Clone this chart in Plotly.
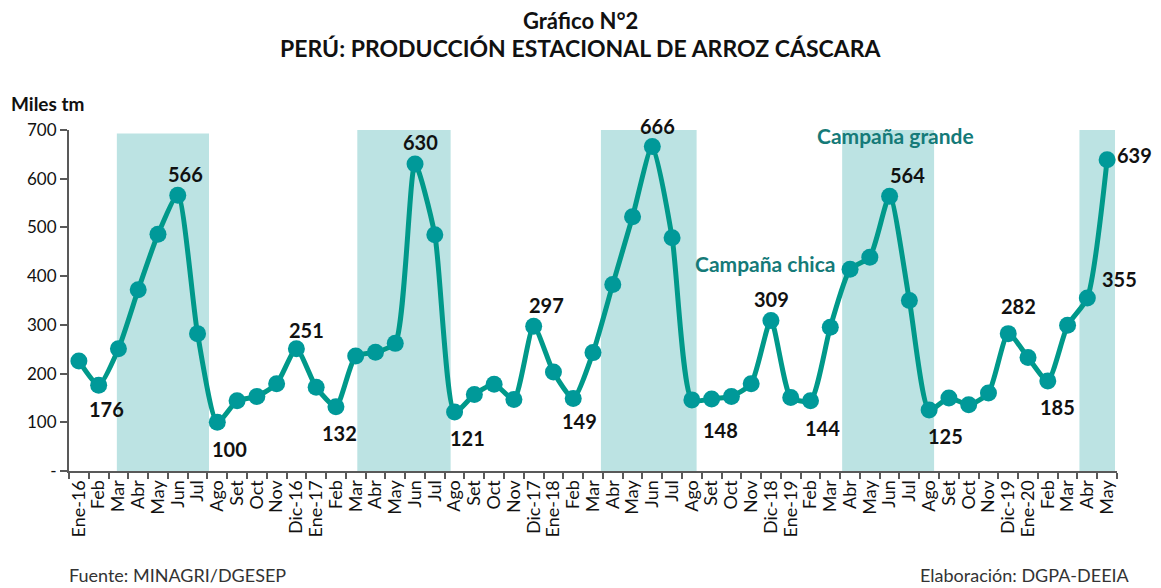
import plotly.graph_objects as go

# ---------------- data ----------------
month_labels = ["Ene-16", "Feb", "Mar", "Abr", "May", "Jun", "Jul", "Ago", "Set", "Oct", "Nov", "Dic-16",
                "Ene-17", "Feb", "Mar", "Abr", "May", "Jun", "Jul", "Ago", "Set", "Oct", "Nov", "Dic-17",
                "Ene-18", "Feb", "Mar", "Abr", "May", "Jun", "Jul", "Ago", "Set", "Oct", "Nov", "Dic-18",
                "Ene-19", "Feb", "Mar", "Abr", "May", "Jun", "Jul", "Ago", "Set", "Oct", "Nov", "Dic-19",
                "Ene-20", "Feb", "Mar", "Abr", "May"]
production = [226, 176, 251, 372, 486, 566, 282, 100, 144, 153, 179, 251,
              172, 132, 236, 244, 262, 630, 485, 121, 157, 178, 147, 297,
              203, 149, 243, 383, 522, 666, 479, 146, 148, 153, 179, 309,
              151, 144, 295, 414, 439, 564, 350, 125, 150, 136, 160, 282,
              233, 185, 299, 355, 639]
# campaign bands (start, end on the category scale, height in Miles tm)
band_start = [1.92, 14.08, 26.4, 38.6, 50.6]
band_end = [6.58, 18.8, 31.24, 43.25, 52.4]
band_top = [693, 702, 706, 706, 706]
# labelled points: index -> (xshift px, yshift px)
label_offsets = {1: (8, -24), 5: (8, 21), 7: (12, -27), 11: (10, 19), 13: (4, -26),
                 17: (5, 22), 19: (13, -26), 23: (13, 21), 25: (6, -23), 29: (5, 21),
                 32: (9, -31), 35: (1, 21), 37: (12, -27), 41: (18, 21), 43: (16, -26),
                 47: (10, 28), 49: (10, -26), 51: (32, 19), 52: (27, 5)}

x = list(range(len(month_labels)))

LINE = "#00998A"
MARK = "#009999"
BAND = "#BCE3E3"
TEAL_TXT = "#157A78"
FONT = "Lato"

# the page body has an 8px margin: work in reference pixels, shifted by it
OFF = 8
FIG_W, FIG_H = 1161 - OFF, 588 - OFF
L, R, T, B = 69 - OFF, 1117 - OFF, 129.7 - OFF, 470.7 - OFF
H = B - T
W = R - L


def py(p):
    return (B - (p - OFF)) / H


def px(p):
    return ((p - OFF) - L) / W


fig = go.Figure()
for s, e, t in zip(band_start, band_end, band_top):
    fig.add_shape(type="rect", x0=s, x1=e, y0=-5, y1=t, xref="x", yref="y",
                  fillcolor=BAND, line_width=0, layer="below")

fig.add_trace(go.Scatter(x=x, y=production, mode="lines+markers",
                         line=dict(color=LINE, width=5, shape="spline", smoothing=0.6),
                         marker=dict(color=MARK, size=17),
                         hoverinfo="skip", showlegend=False))

for i, (dx, dy) in label_offsets.items():
    fig.add_annotation(x=i, y=production[i], text=str(production[i]), showarrow=False,
                       xshift=dx, yshift=dy, yanchor="middle",
                       font=dict(family=FONT, size=20, color="#111111", weight="bold"))

fig.add_annotation(x=41.3, y=689, text="Campaña grande", showarrow=False, yanchor="middle",
                   font=dict(family=FONT, size=21, color=TEAL_TXT, weight="bold"))
fig.add_annotation(x=34.7, y=425, text="Campaña chica", showarrow=False, yanchor="middle",
                   font=dict(family=FONT, size=21, color=TEAL_TXT, weight="bold"))

fig.add_annotation(xref="paper", yref="paper", x=px(580), y=py(20), text="Gráfico N°2",
                   showarrow=False, yanchor="middle",
                   font=dict(family=FONT, size=22, color="#111111", weight="bold"))
fig.add_annotation(xref="paper", yref="paper", x=px(580), y=py(48),
                   text="PERÚ: PRODUCCIÓN ESTACIONAL DE ARROZ CÁSCARA",
                   showarrow=False, yanchor="middle",
                   font=dict(family=FONT, size=23, color="#111111", weight="bold"))
fig.add_annotation(xref="paper", yref="paper", x=px(9), y=py(103), xanchor="left",
                   yanchor="middle", text="Miles tm", showarrow=False,
                   font=dict(family=FONT, size=19, color="#111111", weight="bold"))
fig.add_annotation(xref="paper", yref="paper", x=px(67), y=py(575), xanchor="left",
                   yanchor="middle", text="Fuente: MINAGRI/DGESEP", showarrow=False,
                   font=dict(family=FONT, size=18, color="#333333"))
fig.add_annotation(xref="paper", yref="paper", x=px(1132), y=py(575), xanchor="right",
                   yanchor="middle", text="Elaboración: DGPA-DEEIA", showarrow=False,
                   font=dict(family=FONT, size=18, color="#333333"))

fig.update_xaxes(range=[-0.5, len(month_labels) - 0.5], tickvals=x, ticktext=month_labels,
                 tickangle=-90, ticks="", showline=True, linecolor="#595959", linewidth=2,
                 showgrid=False, zeroline=False,
                 tickfont=dict(family=FONT, size=18, color="#111111"),
                 minor=dict(tick0=-0.5, dtick=1, ticks="outside", ticklen=6,
                            tickcolor="#595959", tickwidth=2, showgrid=False))
fig.update_yaxes(range=[0, 700], tickvals=[0, 100, 200, 300, 400, 500, 600, 700],
                 ticktext=["-", "100", "200", "300", "400", "500", "600", "700"],
                 ticks="outside", ticklen=7, tickcolor="#595959", tickwidth=2,
                 showline=True, linecolor="#595959", linewidth=2, showgrid=False,
                 zeroline=False, tickfont=dict(family=FONT, size=17, color="#111111"))

fig.update_layout(width=FIG_W, height=FIG_H, paper_bgcolor="white", plot_bgcolor="white",
                  margin=dict(l=L, r=FIG_W - R, t=T, b=FIG_H - B, autoexpand=False),
                  font=dict(family=FONT))

fig.write_html("out.html")
